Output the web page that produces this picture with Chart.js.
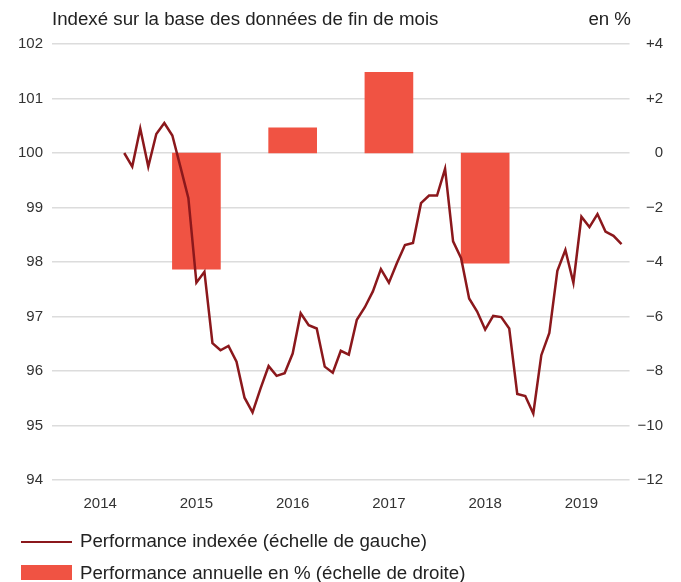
<!DOCTYPE html>
<html>
<head>
<meta charset="utf-8">
<script src="https://cdn.jsdelivr.net/npm/chart.js@4/dist/chart.umd.min.js"></script>
<style>
  html, body { margin: 0; padding: 0; background: #ffffff; }
  #wrap { position: relative; width: 681px; height: 582px; overflow: hidden; font-family: "Liberation Sans", Arial, sans-serif; color: #222; }
  #chart { position: absolute; left: 0; top: 0; }
  .hdr { position: absolute; font-size: 18.7px; line-height: 18.7px; white-space: nowrap; }
  .leg { position: absolute; left: 21px; font-size: 18.7px; line-height: 18.7px; white-space: nowrap; }
  .swatch-line { position: absolute; left: 0; width: 51px; height: 0; }
  .swatch-box { position: absolute; left: 0; width: 51px; height: 15px; }
  .leg span { position: absolute; left: 59px; top: 0; }
</style>
</head>
<body>
<div id="wrap">
  <canvas id="chart" width="681" height="582"></canvas>
  <div class="hdr" id="hdrLeft" style="left:52px; top:10px;"></div>
  <div class="hdr" id="hdrRight" style="right:50px; top:10px; text-align:right;"></div>
  <div class="leg" id="leg1" style="top:532px; width:600px; height:20px;"><div class="swatch-line" id="sw1" style="top:8.5px;"></div><span id="legText1"></span></div>
  <div class="leg" id="leg2" style="top:564px; width:600px; height:20px;"><div class="swatch-box" id="sw2" style="top:1px;"></div><span id="legText2"></span></div>
</div>
<script>
// ---- Data ----
const titleLeft = 'Indexé sur la base des données de fin de mois';
const titleRight = 'en %';
const seriesNames = ['Performance indexée (échelle de gauche)', 'Performance annuelle en % (échelle de droite)'];

// Indexed performance, end-of-month values from 2014-09 to 2019-11 (left scale)
const lineStart = '2014-09';
const lineValues = [
  100.00, 99.75, 100.45, 99.75, 100.35, 100.55, 100.32, 99.75, 99.17, 97.62,
  97.82, 96.51, 96.38, 96.46, 96.17, 95.51, 95.24, 95.68, 96.09, 95.91,
  95.96, 96.32, 97.06, 96.84, 96.78, 96.08, 95.97, 96.37, 96.30, 96.94,
  97.17, 97.46, 97.87, 97.62, 97.98, 98.31, 98.35, 99.08, 99.22, 99.22,
  99.71, 98.38, 98.07, 97.33, 97.09, 96.76, 97.01, 96.99, 96.78, 95.58,
  95.54, 95.22, 96.29, 96.70, 97.84, 98.22, 97.62, 98.83, 98.64, 98.88,
  98.56, 98.48, 98.33
];

// Annual performance in % (right scale)
const barYears = ['2015', '2016', '2017', '2018'];
const barValues = [-4.26, 0.92, 2.96, -4.04];

// Axis tick labels
const yearLabels = ['2014', '2015', '2016', '2017', '2018', '2019'];
const leftTicks = [94, 95, 96, 97, 98, 99, 100, 101, 102];
const rightTicks = [-12, -10, -8, -6, -4, -2, 0, 2, 4];

// ---- Styles ----
const lineColor = '#8b181c';
const barColor = '#f05343';
const gridColor = '#dcdcdc';
const tickColor = '#333333';
const fontFamily = '"Liberation Sans", Arial, sans-serif';

// ---- Helpers (month index since Jan 2014) ----
const baseYear = 2014;
function monthIndex(ym) { const [y, m] = ym.split('-').map(Number); return (y - baseYear) * 12 + m; }
function yearCenter(y) { return (Number(y) - baseYear) * 12 + 6; }
const startIdx = monthIndex(lineStart);
const lineData = lineValues.map((v, i) => ({ x: startIdx + i, y: v }));
const barData = barYears.map((y, i) => ({ x: yearCenter(y), y: barValues[i] }));
const xMax = yearLabels.length * 12;

function fmtRight(v) {
  if (v > 0) return '+' + v;
  if (v < 0) return '\u2212' + Math.abs(v);
  return '0';
}

document.getElementById('hdrLeft').textContent = titleLeft;
document.getElementById('hdrRight').textContent = titleRight;
document.getElementById('legText1').textContent = seriesNames[0];
document.getElementById('legText2').textContent = seriesNames[1];
document.getElementById('sw1').style.borderTop = '2.5px solid ' + lineColor;
document.getElementById('sw2').style.background = barColor;

new Chart(document.getElementById('chart'), {
  data: {
    datasets: [
      {
        type: 'line', label: seriesNames[0], data: lineData, yAxisID: 'y', xAxisID: 'x',
        borderColor: lineColor, borderWidth: 2.5, pointRadius: 0, tension: 0, order: 0,
        borderJoinStyle: 'miter'
      },
      {
        type: 'bar', label: seriesNames[1], data: barData, yAxisID: 'y2', xAxisID: 'x',
        backgroundColor: barColor, borderWidth: 0, barThickness: 48, order: 1
      }
    ]
  },
  options: {
    responsive: false,
    animation: false,
    layout: { padding: { top: 44, left: 9, right: 18, bottom: 54 } },
    plugins: { legend: { display: false }, tooltip: { enabled: false } },
    scales: {
      x: {
        type: 'linear', min: 0, max: xMax, offset: false,
        grid: { display: false, drawTicks: false, offset: false }, border: { display: false },
        afterBuildTicks: (axis) => { axis.ticks = yearLabels.map(y => ({ value: yearCenter(y) })); },
        ticks: {
          autoSkip: false, maxRotation: 0, padding: 15, color: tickColor,
          font: { family: fontFamily, size: 15 },
          callback: (v) => String(baseYear + Math.floor(v / 12))
        }
      },
      y: {
        position: 'left', min: leftTicks[0], max: leftTicks[leftTicks.length - 1],
        afterBuildTicks: (axis) => { axis.ticks = leftTicks.map(v => ({ value: v })); },
        grid: { color: gridColor, lineWidth: 1.5, drawTicks: false },
        border: { display: false },
        ticks: { padding: 9, color: tickColor, font: { family: fontFamily, size: 15 } }
      },
      y2: {
        position: 'right', min: rightTicks[0], max: rightTicks[rightTicks.length - 1],
        afterBuildTicks: (axis) => { axis.ticks = rightTicks.map(v => ({ value: v })); },
        grid: { display: false, drawTicks: false },
        border: { display: false },
        ticks: { padding: 4, crossAlign: 'far', color: tickColor, font: { family: fontFamily, size: 15 }, callback: fmtRight }
      }
    }
  }
});
</script>
</body>
</html>
